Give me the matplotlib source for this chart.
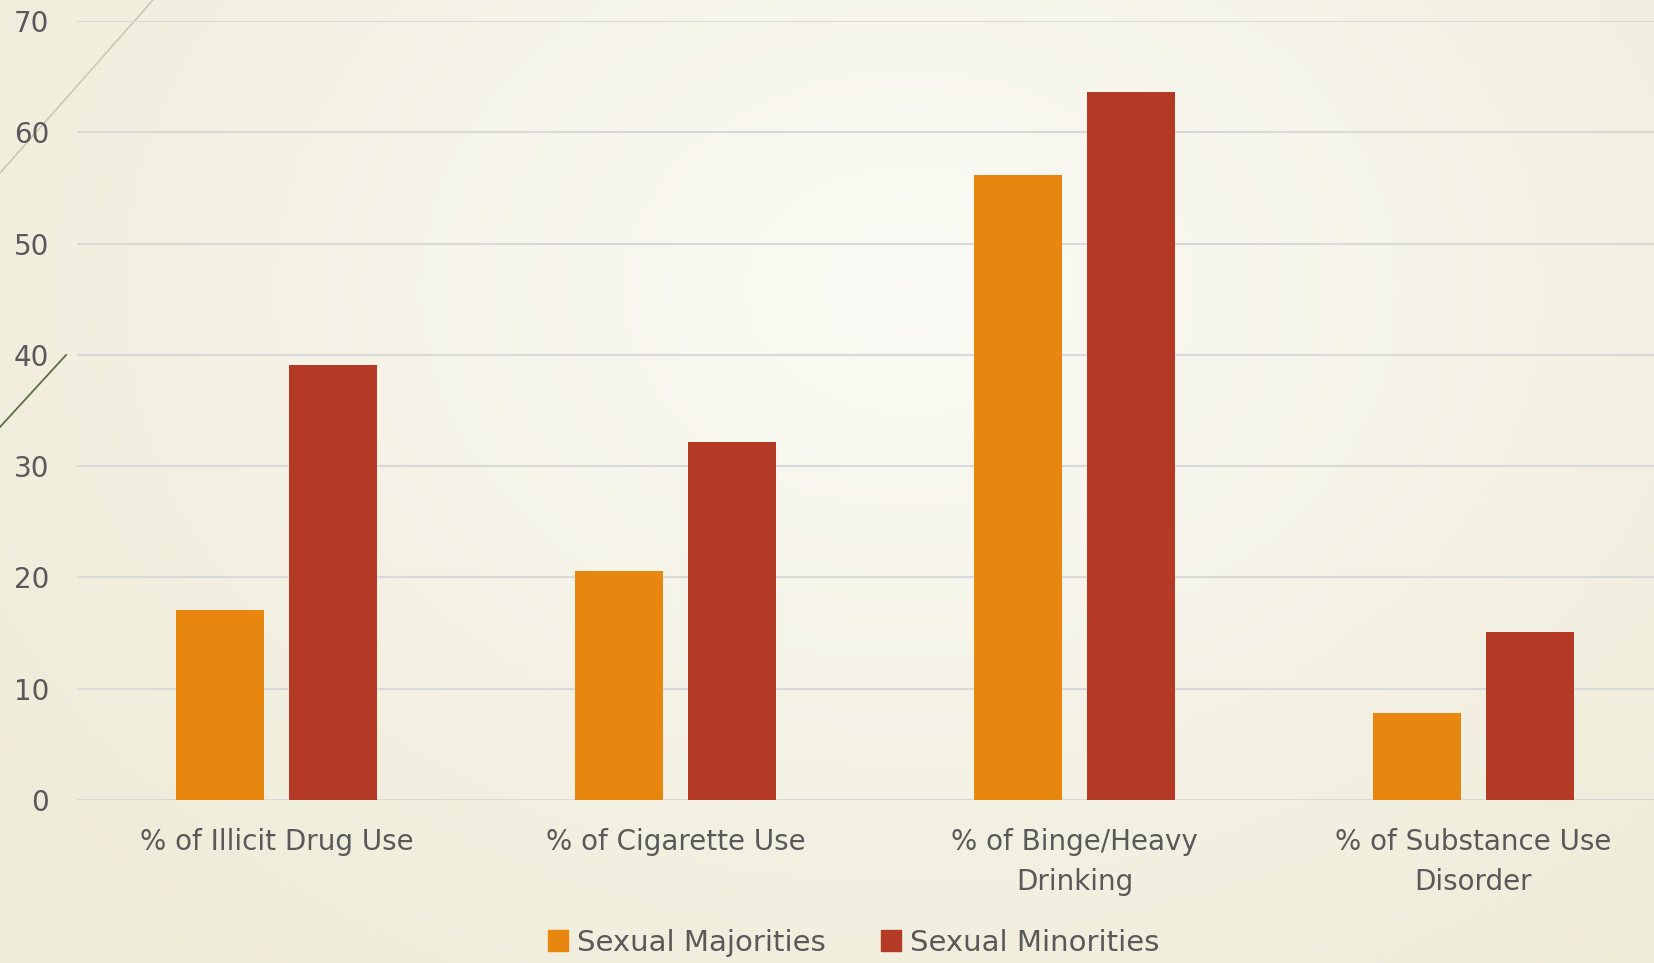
import numpy as np
import matplotlib
matplotlib.use("Agg")
import matplotlib.pyplot as plt
from matplotlib.lines import Line2D
from matplotlib.patches import Patch

categories = ["% of Illicit Drug Use", "% of Cigarette Use",
              "% of Binge/Heavy\nDrinking", "% of Substance Use\nDisorder"]
majorities = [17.1, 20.6, 56.2, 7.8]
minorities = [39.1, 32.2, 63.6, 15.1]
series_names = ["Sexual Majorities", "Sexual Minorities"]
yticks = [0, 10, 20, 30, 40, 50, 60, 70]

ORANGE = "#E8870F"
RED = "#B53A26"
TEXT = "#595959"
GRID = "#D9D9D9"

plt.rcParams["font.family"] = ["DejaVu Sans"]

W, H = 1654, 963
fig = plt.figure(figsize=(W / 100, H / 100), dpi=100)

# cream radial background
bg = fig.add_axes([0, 0, 1, 1], zorder=-10)
yy, xx = np.mgrid[0:1:200j, 0:1:340j]
r = np.sqrt(((xx - 0.55) * 1.3) ** 2 + (yy - 0.3) ** 2)
r = np.clip(r / 0.9, 0, 1)
c_in = np.array([0.985, 0.983, 0.962])
c_out = np.array([0.935, 0.922, 0.845])
img = c_in[None, None, :] * (1 - r[..., None]) + c_out[None, None, :] * r[..., None]
bg.imshow(img, extent=[0, 1, 0, 1], aspect="auto", origin="upper")
bg.set_xlim(0, 1)
bg.set_ylim(0, 1)
bg.axis("off")
# slide accent strokes in the top-left corner
bg.add_line(Line2D([0, 153 / W], [1 - 173 / H, 1], color="#C9C9B4", lw=1.2))
bg.add_line(Line2D([0, 66 / W], [1 - 427 / H, 1 - 355 / H], color="#5E6E45", lw=1.3))

ax = fig.add_axes([77 / W, 1 - 800 / H, 1596 / W, 779 / H])
ax.patch.set_alpha(0)

x = np.arange(len(categories))
bw = 0.223
off = 0.1416
ax.bar(x - off, majorities, bw, color=ORANGE, label=series_names[0], zorder=3)
ax.bar(x + off, minorities, bw, color=RED, label=series_names[1], zorder=3)

ax.set_xlim(-0.5, len(categories) - 0.5)
ax.set_ylim(0, 70)
ax.set_yticks(yticks)
ax.set_xticks(x)
ax.set_xticklabels(categories, fontsize=20, color=TEXT, linespacing=1.55)
ax.tick_params(axis="y", length=0, pad=20, labelsize=20, labelcolor=TEXT)
ax.tick_params(axis="x", length=0, pad=20)
ax.grid(axis="y", color=GRID, lw=1.5, zorder=0)
for s in ax.spines.values():
    s.set_visible(False)

handles = [Patch(color=ORANGE), Patch(color=RED)]
fig.legend(handles, series_names, loc="center", bbox_to_anchor=(0.516, 0.021),
           ncol=2, frameon=False, fontsize=21, labelcolor=TEXT,
           handlelength=0.7, handleheight=0.7, handletextpad=0.3, columnspacing=1.9)

fig.savefig("out.png", dpi=100)
